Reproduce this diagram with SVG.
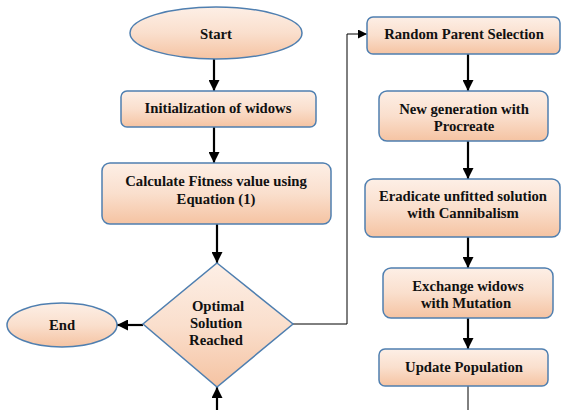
<svg xmlns="http://www.w3.org/2000/svg" width="561" height="410" viewBox="0 0 561 410">
<defs>
<linearGradient id="g" x1="0" y1="0" x2="0" y2="1">
<stop offset="0" stop-color="#fdefe6"/>
<stop offset="0.5" stop-color="#fadfcd"/>
<stop offset="1" stop-color="#f5c3a2"/>
</linearGradient>
<marker id="ah" viewBox="0 0 10 10" refX="10" refY="5" markerWidth="5" markerHeight="5" orient="auto" markerUnits="strokeWidth">
<path d="M0,0 L10,5 L0,10 Z" fill="#000"/>
</marker>
<marker id="ahs" viewBox="0 0 10 10" refX="10" refY="5" markerWidth="9" markerHeight="9" orient="auto" markerUnits="strokeWidth">
<path d="M0,0 L10,5 L0,10 Z" fill="#000"/>
</marker>
</defs>
<style>
.n{fill:url(#g);stroke:#4f7fb0;stroke-width:1.5}
.t{font-family:"Liberation Serif","Times New Roman",serif;font-weight:bold;font-size:14.7px;fill:#111;text-anchor:middle}
.c{fill:none;stroke:#000;stroke-width:2.2}
.c1{fill:none;stroke:#000;stroke-width:1}
</style>
<g id="connectors">
<line class="c" x1="214" y1="59" x2="214" y2="91" marker-end="url(#ah)"/>
<line class="c" x1="214" y1="127" x2="214" y2="163" marker-end="url(#ah)"/>
<line class="c" x1="217" y1="224" x2="217" y2="263" marker-end="url(#ah)"/>
<line class="c" x1="143" y1="325" x2="117" y2="325" marker-end="url(#ah)"/>
<line class="c" x1="217" y1="410" x2="217" y2="387" marker-end="url(#ah)"/>
<polyline class="c1" points="293,324 347,324 347,34 367,34" marker-end="url(#ahs)"/>
<line class="c" x1="468" y1="54" x2="468" y2="91" marker-end="url(#ah)"/>
<line class="c" x1="468" y1="141" x2="468" y2="179" marker-end="url(#ah)"/>
<line class="c" x1="468" y1="237" x2="468" y2="268" marker-end="url(#ah)"/>
<line class="c" x1="468" y1="318" x2="468" y2="349" marker-end="url(#ah)"/>
<line class="c1" x1="468" y1="386" x2="468" y2="410"/>
</g>
<g id="start">
<ellipse class="n" cx="216" cy="33" rx="86" ry="26"/>
<text class="t" x="216" y="39">Start</text>
</g>
<g id="init">
<rect class="n" x="121" y="91" width="195" height="36" rx="6"/>
<text class="t" x="218" y="113">Initialization of widows</text>
</g>
<g id="fitness">
<rect class="n" x="102" y="163" width="229" height="61" rx="8"/>
<text class="t" x="216" y="186">Calculate Fitness value using</text>
<text class="t" x="216" y="204">Equation (1)</text>
</g>
<g id="decision">
<polygon class="n" points="217,263 293,324 217,387 143,324"/>
<text class="t" x="218" y="311">Optimal</text>
<text class="t" x="216" y="328">Solution</text>
<text class="t" x="216" y="345">Reached</text>
</g>
<g id="end">
<ellipse class="n" cx="62" cy="325" rx="55" ry="22"/>
<text class="t" x="62" y="330">End</text>
</g>
<g id="random">
<rect class="n" x="367" y="17" width="193" height="37" rx="6"/>
<text class="t" x="464" y="39">Random Parent Selection</text>
</g>
<g id="newgen">
<rect class="n" x="379" y="91" width="169" height="50" rx="8"/>
<text class="t" x="464" y="114">New generation with</text>
<text class="t" x="464" y="131">Procreate</text>
</g>
<g id="eradicate">
<rect class="n" x="365" y="179" width="195" height="58" rx="8"/>
<text class="t" x="463" y="201">Eradicate unfitted solution</text>
<text class="t" x="463" y="218">with Cannibalism</text>
</g>
<g id="exchange">
<rect class="n" x="383" y="268" width="170" height="50" rx="8"/>
<text class="t" x="468" y="291">Exchange widows</text>
<text class="t" x="466" y="308">with Mutation</text>
</g>
<g id="update">
<rect class="n" x="379" y="349" width="169" height="37" rx="6"/>
<text class="t" x="464" y="372">Update Population</text>
</g>
</svg>
